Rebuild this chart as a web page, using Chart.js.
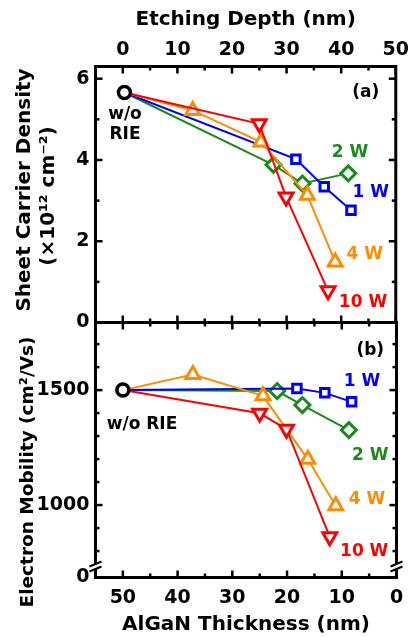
<!DOCTYPE html>
<html>
<head>
<meta charset="utf-8">
<script src="https://cdn.jsdelivr.net/npm/chart.js@4.4.1/dist/chart.umd.min.js"></script>
<style>
  html, body { margin: 0; padding: 0; background: #fff; }
  #wrap { position: relative; width: 414px; height: 637px; }
  #wrap canvas { position: absolute; left: 0; top: 0; }
</style>
</head>
<body>
<div id="wrap">
  <canvas id="densityChart" width="414" height="637"></canvas>
  <canvas id="mobilityChart" width="414" height="637"></canvas>
</div>
<script>
// (a) sheet carrier density (1e12 cm-2) vs etching depth (nm)
const refDepth = [0.3];
const refDensity = [5.66];
const depth1W = [31.7, 36.9, 41.8];
const density1W = [4.02, 3.34, 2.76];
const depth2W = [27.6, 32.9, 41.3];
const density2W = [3.88, 3.42, 3.67];
const depth4W = [12.8, 25.3, 33.8, 38.9];
const density4W = [5.22, 4.44, 3.13, 1.49];
const depth10W = [25.0, 29.9, 37.6];
const density10W = [4.89, 3.09, 0.78];

// (b) electron mobility (cm2/Vs) vs AlGaN thickness (nm)
const refThickness = [50];
const refMobility = [1500];
const thickness1W = [18.2, 13.1, 8.2];
const mobility1W = [1507, 1488, 1449];
const thickness2W = [21.8, 17.2, 8.7];
const mobility2W = [1496, 1435, 1326];
const thickness4W = [37.2, 24.4, 16.2, 11.1];
const mobility4W = [1568, 1475, 1199, 997];
const thickness10W = [25.0, 20.1, 12.2];
const mobility10W = [1399, 1330, 862];

// ticks
const depthTicks = [0, 10, 20, 30, 40, 50];
const depthMinor = [5, 15, 25, 35, 45];
const densityTicks = [0, 2, 4, 6];
const densityMinor = [1, 3, 5];
const thicknessTicks = [0, 10, 20, 30, 40, 50];
const thicknessMinor = [5, 15, 25, 35, 45];
const mobilityTicks = [685, 1000, 1500];
const mobilityTickLabels = ['0', '1000', '1500'];
const mobilityMinor = [800, 900, 1100, 1200, 1300, 1400, 1600, 1700];

const colors = { ref: '#000000', w1: '#0000ff', w2: '#1a8a1a', w4: '#ff8c00', w10: '#ff0000' };
const FONT = "'DejaVu Sans', sans-serif";

Chart.defaults.font.family = FONT;
Chart.defaults.font.weight = 'bold';
Chart.defaults.color = '#000';

function toPoints(xs, ys) {
    return xs.map((v, i) => ({ x: v, y: ys[i] }));
}

// une série part toujours du point de référence (sans RIE)
function series(color, style, radius, xs, ys, refX, refY, rotation) {
    return {
        data: toPoints(refX.concat(xs), refY.concat(ys)),
        showLine: true,
        borderColor: color,
        borderWidth: 2,
        pointStyle: style,
        pointRotation: rotation || 0,
        pointRadius: ctx => ctx.dataIndex === 0 ? 0 : radius,
        pointBorderColor: color,
        pointBackgroundColor: '#fff',
        pointBorderWidth: 3
    };
}

function refSeries(xs, ys) {
    return {
        data: toPoints(xs, ys),
        showLine: false,
        pointStyle: 'circle',
        pointRadius: 6,
        pointBorderColor: colors.ref,
        pointBackgroundColor: '#fff',
        pointBorderWidth: 3.5
    };
}

// cadre + graduations intérieures sur les quatre côtés
const framePlugin = {
    id: 'frame',
    afterDatasetsDraw(chart, args, o) {
        const { ctx, chartArea: a, scales: { x, y } } = chart;
        ctx.save();
        ctx.strokeStyle = '#000';
        const line = (x1, y1, x2, y2) => { ctx.beginPath(); ctx.moveTo(x1, y1); ctx.lineTo(x2, y2); ctx.stroke(); };
        ctx.lineWidth = 2.5;
        const xt = (vals, len) => vals.forEach(v => {
            const px = x.getPixelForValue(v);
            line(px, a.top, px, a.top + len);
            line(px, a.bottom, px, a.bottom - len);
        });
        const yt = (vals, len) => vals.forEach(v => {
            const py = y.getPixelForValue(v);
            line(a.left, py, a.left + len, py);
            line(a.right, py, a.right - len, py);
        });
        xt(o.xMajor, 7); xt(o.xMinor, 4);
        yt(o.yMajor, 7); yt(o.yMinor, 4);
        ctx.lineWidth = 3;
        ctx.strokeRect(a.left, a.top, a.right - a.left, a.bottom - a.top);
        if (o.axisBreak) {
            const yb = a.bottom - 11;
            [a.left, a.right].forEach(px => {
                ctx.fillStyle = '#fff';
                ctx.fillRect(px - 2.5, yb - 2.5, 5, 5);
                ctx.lineWidth = 2;
                line(px - 6, yb, px + 6, yb - 5);
                line(px - 6, yb + 5, px + 6, yb);
            });
        }
        ctx.restore();
    }
};

// étiquettes dans le graphe, placées en coordonnées de données
const notesPlugin = {
    id: 'notes',
    afterDraw(chart, args, o) {
        const { ctx, scales: { x, y } } = chart;
        ctx.save();
        ctx.font = 'bold 17px ' + FONT;
        ctx.textAlign = 'center';
        ctx.textBaseline = 'middle';
        o.items.forEach(n => {
            const lines = n.text.split('\n');
            ctx.fillStyle = n.color;
            lines.forEach((t, i) => {
                ctx.fillText(t, x.getPixelForValue(n.x), y.getPixelForValue(n.y) + (i - (lines.length - 1) / 2) * 20);
            });
        });
        ctx.restore();
    }
};

// titre vertical de l'axe y (décalé comme dans la figure)
const sideTitlePlugin = {
    id: 'sideTitle',
    afterDraw(chart, args, o) {
        const ctx = chart.ctx;
        ctx.save();
        ctx.fillStyle = '#000';
        ctx.textAlign = 'center';
        ctx.textBaseline = 'middle';
        o.lines.forEach(l => {
            ctx.save();
            ctx.translate(l.x, l.y);
            ctx.rotate(-Math.PI / 2);
            ctx.font = 'bold ' + l.size + 'px ' + FONT;
            ctx.fillText(l.text, 0, 0);
            ctx.restore();
        });
        ctx.restore();
    }
};

const tickFont = { size: 19, weight: 'bold' };
const titleFont = { size: 20, weight: 'bold' };
const noGrid = { display: false, drawTicks: false };

// (a) graphique du haut
new Chart(document.getElementById('densityChart'), {
    type: 'scatter',
    data: {
        datasets: [
            refSeries(refDepth, refDensity),
            series(colors.w10, 'triangle', 8, depth10W, density10W, refDepth, refDensity, 180),
            series(colors.w4, 'triangle', 8, depth4W, density4W, refDepth, refDensity),
            series(colors.w1, 'rect', 6, depth1W, density1W, refDepth, refDensity),
            series(colors.w2, 'rectRot', 7.5, depth2W, density2W, refDepth, refDensity)
        ]
    },
    options: {
        responsive: false,
        animation: false,
        devicePixelRatio: 1,
        layout: { padding: { left: 0, right: 17.5, top: 0, bottom: 314.5 } },
        scales: {
            x: {
                type: 'linear', position: 'top', min: -5, max: 50,
                afterBuildTicks: s => { s.ticks = depthTicks.map(v => ({ value: v })); },
                afterFit: s => { s.height = 66.5; },
                ticks: { font: tickFont, padding: 5, maxRotation: 0, autoSkip: false },
                grid: noGrid, border: { display: false },
                title: { display: true, text: 'Etching Depth (nm)', font: titleFont, padding: { top: 8, bottom: 0 } }
            },
            y: {
                type: 'linear', min: 0, max: 6.3,
                afterBuildTicks: s => { s.ticks = densityTicks.map(v => ({ value: v })); },
                afterFit: s => { s.width = 95.5; },
                ticks: { font: tickFont, padding: 6 },
                grid: noGrid, border: { display: false }
            }
        },
        plugins: {
            legend: { display: false },
            tooltip: { enabled: false },
            frame: { xMajor: depthTicks, xMinor: depthMinor, yMajor: densityTicks, yMinor: densityMinor },
            sideTitle: {
                lines: [
                    { text: 'Sheet Carrier Density', x: 25, y: 190, size: 20 },
                    { text: '(×10¹² cm⁻²)', x: 49, y: 196, size: 20 }
                ]
            },
            notes: {
                items: [
                    { text: '(a)', x: 44.5, y: 5.67, color: colors.ref },
                    { text: 'w/o\nRIE', x: 0.4, y: 4.86, color: colors.ref },
                    { text: '2 W', x: 41.6, y: 4.19, color: colors.w2 },
                    { text: '1 W', x: 45.4, y: 3.2, color: colors.w1 },
                    { text: '4 W', x: 44.3, y: 1.66, color: colors.w4 },
                    { text: '10 W', x: 44.0, y: 0.5, color: colors.w10 }
                ]
            }
        }
    },
    plugins: [framePlugin, notesPlugin, sideTitlePlugin]
});

// (b) graphique du bas
new Chart(document.getElementById('mobilityChart'), {
    type: 'scatter',
    data: {
        datasets: [
            refSeries(refThickness, refMobility),
            series(colors.w10, 'triangle', 8, thickness10W, mobility10W, refThickness, refMobility, 180),
            series(colors.w4, 'triangle', 8, thickness4W, mobility4W, refThickness, refMobility),
            series(colors.w1, 'rect', 6, thickness1W, mobility1W, refThickness, refMobility),
            series(colors.w2, 'rectRot', 7.5, thickness2W, mobility2W, refThickness, refMobility)
        ]
    },
    options: {
        responsive: false,
        animation: false,
        devicePixelRatio: 1,
        layout: { padding: { left: 0, right: 17.5, top: 322.5, bottom: 0 } },
        scales: {
            x: {
                type: 'linear', position: 'bottom', min: 0, max: 55, reverse: true,
                afterBuildTicks: s => { s.ticks = thicknessTicks.map(v => ({ value: v })); },
                afterFit: s => { s.height = 59.5; },
                ticks: { font: tickFont, padding: 9, maxRotation: 0, autoSkip: false },
                grid: noGrid, border: { display: false },
                title: { display: true, text: 'AlGaN Thickness (nm)', font: titleFont, padding: { top: 0, bottom: 0 } }
            },
            y: {
                type: 'linear', min: 685, max: 1794,
                afterBuildTicks: s => { s.ticks = mobilityTicks.map(v => ({ value: v })); },
                afterFit: s => { s.width = 95.5; },
                ticks: { font: tickFont, padding: 6, callback: (v, i) => mobilityTickLabels[i] },
                grid: noGrid, border: { display: false }
            }
        },
        plugins: {
            legend: { display: false },
            tooltip: { enabled: false },
            frame: { xMajor: thicknessTicks, xMinor: thicknessMinor, yMajor: mobilityTicks.slice(1), yMinor: mobilityMinor, axisBreak: true },
            sideTitle: {
                lines: [
                    { text: 'Electron Mobility (cm²/Vs)', x: 28, y: 472, size: 18.5 }
                ]
            },
            notes: {
                items: [
                    { text: '(b)', x: 4.8, y: 1674, color: colors.ref },
                    { text: 'w/o RIE', x: 46.5, y: 1352, color: colors.ref },
                    { text: '1 W', x: 6.3, y: 1539, color: colors.w1 },
                    { text: '2 W', x: 4.8, y: 1217, color: colors.w2 },
                    { text: '4 W', x: 5.4, y: 1022, color: colors.w4 },
                    { text: '10 W', x: 5.9, y: 796, color: colors.w10 }
                ]
            }
        }
    },
    plugins: [framePlugin, notesPlugin, sideTitlePlugin]
});
</script>
</body>
</html>
